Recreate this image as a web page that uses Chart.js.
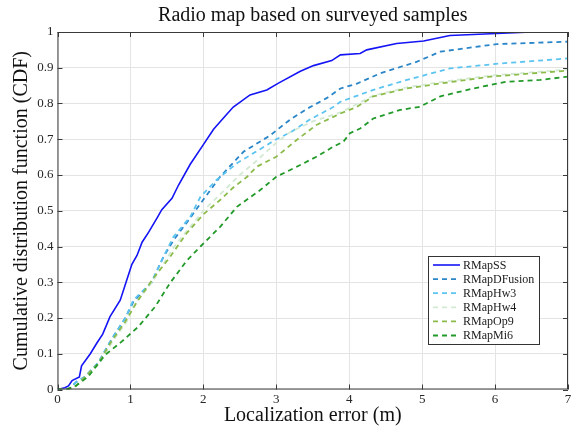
<!DOCTYPE html>
<html>
<head>
<meta charset="utf-8">
<script src="https://cdn.jsdelivr.net/npm/chart.js@4.4.1/dist/chart.umd.min.js"></script>
<style>
  html, body { margin: 0; padding: 0; background: #fff; }
</style>
</head>
<body>
<canvas id="cdfChart" width="578" height="433"></canvas>
<script>
// values (x = localization error in m, y = CDF)
const seriesNames = ["RMapSS", "RMapDFusion", "RMapHw3", "RMapHw4", "RMapOp9", "RMapMi6"];

const ssX = [0, 0.1, 0.15, 0.2, 0.3, 0.33, 0.45, 0.54, 0.62, 0.72, 0.86, 0.95, 1.02, 1.09, 1.16, 1.25, 1.36, 1.43, 1.57, 1.66, 1.82, 2.0, 2.14, 2.3, 2.41, 2.64, 2.87, 3.03, 3.33, 3.51, 3.76, 3.88, 4.15, 4.24, 4.65, 5.02, 5.38, 6.02, 6.5, 7];
const ssY = [0, 0.005, 0.01, 0.025, 0.035, 0.066, 0.1, 0.13, 0.155, 0.204, 0.25, 0.306, 0.35, 0.375, 0.412, 0.44, 0.478, 0.503, 0.535, 0.572, 0.63, 0.685, 0.728, 0.765, 0.79, 0.824, 0.838, 0.857, 0.89, 0.906, 0.92, 0.936, 0.94, 0.95, 0.968, 0.975, 0.99, 0.996, 1.0, 1.0];

const dfX = [0, 0.15, 0.25, 0.38, 0.56, 0.74, 0.93, 1.04, 1.29, 1.45, 1.6, 1.82, 1.96, 2.23, 2.55, 2.91, 3.19, 3.42, 3.69, 3.88, 4.1, 4.42, 4.93, 5.25, 5.57, 6.02, 7];
const dfY = [0, 0, 0.02, 0.036, 0.075, 0.14, 0.2, 0.245, 0.3, 0.37, 0.42, 0.48, 0.52, 0.595, 0.665, 0.71, 0.755, 0.785, 0.815, 0.842, 0.855, 0.884, 0.917, 0.945, 0.954, 0.966, 0.973];

const hw3X = [0, 0.15, 0.25, 0.38, 0.56, 0.74, 0.93, 1.04, 1.29, 1.45, 1.59, 1.82, 1.96, 2.18, 2.46, 2.8, 3.0, 3.2, 3.46, 3.78, 3.88, 4.33, 4.79, 5.38, 6.07, 7];
const hw3Y = [0, 0, 0.02, 0.036, 0.075, 0.14, 0.2, 0.25, 0.3, 0.37, 0.427, 0.483, 0.539, 0.586, 0.633, 0.675, 0.7, 0.72, 0.755, 0.79, 0.805, 0.838, 0.866, 0.898, 0.912, 0.926];

const hw4X = [0, 0.18, 0.28, 0.4, 0.58, 0.76, 0.95, 1.06, 1.3, 1.6, 1.8, 2.0, 2.3, 2.5, 2.73, 3.0, 3.19, 3.5, 3.88, 4.33, 4.79, 5.25, 5.93, 7];
const hw4Y = [0, 0, 0.015, 0.036, 0.073, 0.136, 0.19, 0.24, 0.3, 0.4, 0.45, 0.5, 0.56, 0.6, 0.64, 0.69, 0.72, 0.75, 0.775, 0.822, 0.845, 0.86, 0.878, 0.895];

const op9X = [0, 0.15, 0.25, 0.38, 0.56, 0.74, 0.93, 1.09, 1.31, 1.54, 1.77, 2.0, 2.23, 2.41, 2.6, 2.73, 3.0, 3.28, 3.55, 3.88, 4.1, 4.33, 4.79, 5.25, 5.93, 7];
const op9Y = [0, 0, 0.01, 0.036, 0.073, 0.135, 0.19, 0.245, 0.31, 0.37, 0.437, 0.49, 0.53, 0.565, 0.595, 0.623, 0.651, 0.698, 0.74, 0.772, 0.79, 0.82, 0.842, 0.856, 0.875, 0.892];

const mi6X = [0, 0.1, 0.24, 0.42, 0.65, 0.88, 1.11, 1.34, 1.54, 1.77, 1.96, 2.23, 2.46, 2.78, 3.0, 3.28, 3.55, 3.78, 3.92, 4.01, 4.15, 4.33, 4.7, 4.97, 5.25, 5.7, 6.16, 6.62, 7];
const mi6Y = [0, 0, 0.008, 0.036, 0.096, 0.134, 0.176, 0.232, 0.297, 0.36, 0.4, 0.455, 0.511, 0.558, 0.595, 0.623, 0.651, 0.679, 0.693, 0.717, 0.73, 0.758, 0.782, 0.791, 0.82, 0.842, 0.861, 0.866, 0.875];

const xTicks = [0, 1, 2, 3, 4, 5, 6, 7];
const yTicks = [0, 0.1, 0.2, 0.3, 0.4, 0.5, 0.6, 0.7, 0.8, 0.9, 1];

const lineColors = ["#1414f5", "#2a86c8", "#5cc4f0", "#d3e9d3", "#8cbb4a", "#229a2a"];
const serif = "'Liberation Serif', 'Times New Roman', serif";

function toPoints(xs, ys) {
  return xs.map((x, i) => ({ x: x, y: ys[i] }));
}

const allX = [ssX, dfX, hw3X, hw4X, op9X, mi6X];
const allY = [ssY, dfY, hw3Y, hw4Y, op9Y, mi6Y];

const datasets = seriesNames.map((name, i) => ({
  label: name,
  data: toPoints(allX[i], allY[i]),
  borderColor: lineColors[i],
  borderWidth: i === 0 ? 1.6 : 1.8,
  borderDash: i === 0 ? [] : [5, 4],
  pointRadius: 0,
  tension: 0,
  fill: false,
  order: seriesNames.length - i,
}));

// MATLAB-like box with inward ticks on all four sides
const frame = {
  id: "frame",
  afterDatasetsDraw(chart) {
    const { ctx, chartArea: a, scales } = chart;
    ctx.save();
    ctx.strokeStyle = "#3a3a3a";
    ctx.lineWidth = 1;
    ctx.setLineDash([]);
    ctx.strokeRect(a.left + 0.5, a.top + 0.5, a.right - a.left - 1, a.bottom - a.top - 1);
    ctx.beginPath();
    xTicks.forEach((t) => {
      const px = Math.round(scales.x.getPixelForValue(t)) + 0.5;
      ctx.moveTo(px, a.bottom); ctx.lineTo(px, a.bottom - 5);
      ctx.moveTo(px, a.top); ctx.lineTo(px, a.top + 5);
    });
    yTicks.forEach((t) => {
      const py = Math.round(scales.y.getPixelForValue(t)) + 0.5;
      ctx.moveTo(a.left, py); ctx.lineTo(a.left + 5, py);
      ctx.moveTo(a.right, py); ctx.lineTo(a.right - 5, py);
    });
    ctx.stroke();
    ctx.restore();
  },
};

const legendBox = {
  id: "legendBox",
  afterDraw(chart) {
    const { ctx, chartArea: a } = chart;
    const w = 111, h = 88;
    const x = a.right - 29 - w;
    const y = 256;
    ctx.save();
    ctx.fillStyle = "#fff";
    ctx.fillRect(x, y, w, h);
    ctx.strokeStyle = "#333";
    ctx.lineWidth = 1;
    ctx.strokeRect(x + 0.5, y + 0.5, w, h);
    ctx.font = "12px " + serif;
    ctx.textBaseline = "middle";
    chart.data.datasets.forEach((ds, i) => {
      const ry = y + 9 + i * 14.1;
      ctx.strokeStyle = ds.borderColor;
      ctx.lineWidth = ds.borderWidth;
      ctx.setLineDash(ds.borderDash);
      ctx.beginPath();
      ctx.moveTo(x + 5, ry);
      ctx.lineTo(x + 32, ry);
      ctx.stroke();
      ctx.setLineDash([]);
      ctx.fillStyle = "#1a1a1a";
      ctx.fillText(ds.label, x + 35, ry + 0.5);
    });
    ctx.restore();
  },
};

new Chart(document.getElementById("cdfChart"), {
  type: "line",
  data: { datasets: datasets },
  plugins: [frame, legendBox],
  options: {
    responsive: false,
    animation: false,
    devicePixelRatio: 1,
    layout: { padding: { left: 0, right: 10, top: 0, bottom: 0 } },
    plugins: {
      legend: { display: false },
      tooltip: { enabled: false },
      title: {
        display: true,
        fullSize: false,
        text: "Radio map based on surveyed samples",
        color: "#111",
        font: { family: serif, size: 20, weight: "normal" },
        padding: { top: 4, bottom: 4 },
      },
    },
    scales: {
      x: {
        type: "linear",
        min: 0,
        max: 7,
        afterBuildTicks: (s) => { s.ticks = xTicks.map((v) => ({ value: v })); },
        afterFit: (s) => { s.height = 43.5; },
        ticks: { color: "#262626", font: { family: serif, size: 13 }, padding: 2, maxRotation: 0 },
        grid: { color: "#e4e4e4", drawTicks: false },
        border: { display: false },
        title: {
          display: true,
          text: "Localization error (m)",
          color: "#111",
          font: { family: serif, size: 20 },
          padding: { top: 0, bottom: 5 },
        },
      },
      y: {
        type: "linear",
        min: 0,
        max: 1,
        afterBuildTicks: (s) => { s.ticks = yTicks.map((v) => ({ value: v })); },
        afterFit: (s) => { s.width = 57.5; },
        ticks: {
          color: "#262626",
          font: { family: serif, size: 13 },
          padding: 4,
          callback: (v) => String(Math.round(v * 10) / 10),
        },
        grid: { color: "#e4e4e4", drawTicks: false },
        border: { display: false },
        title: {
          display: true,
          text: "Cumulative distribution function (CDF)",
          color: "#111",
          font: { family: serif, size: 20 },
          padding: { top: 10, bottom: 0 },
        },
      },
    },
  },
});
</script>
</body>
</html>
